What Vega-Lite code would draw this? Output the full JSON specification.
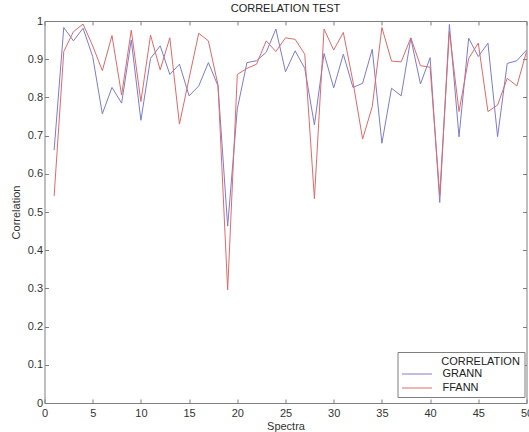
{
  "$schema": "https://vega.github.io/schema/vega-lite/v6.json",
  "width": 482,
  "height": 382,
  "autosize": {"type": "none"},
  "padding": {"left": 44.5, "top": 21, "right": 2.5, "bottom": 29},
  "background": "white",
  "title": {"text": "CORRELATION TEST", "fontSize": 11, "font": "Liberation Sans", "fontWeight": "normal", "color": "#222222", "offset": 1},
  "config": {
    "view": {"stroke": null},
    "axis": {
      "grid": false, "domainColor": "#7f7f7f", "tickColor": "#7f7f7f", "tickSize": -4,
      "labelFont": "Liberation Sans", "labelFontSize": 11, "labelColor": "#333333",
      "titleFont": "Liberation Sans", "titleFontSize": 11, "titleFontWeight": "normal", "titleColor": "#333333",
      "labelFlush": false, "labelOverlap": false, "labelBound": false
    }
  },
  "data": {"values": [
    {"spectrum": 1, "model": "GRANN", "correlation": 0.662},
    {"spectrum": 2, "model": "GRANN", "correlation": 0.983},
    {"spectrum": 3, "model": "GRANN", "correlation": 0.948},
    {"spectrum": 4, "model": "GRANN", "correlation": 0.981},
    {"spectrum": 5, "model": "GRANN", "correlation": 0.907},
    {"spectrum": 6, "model": "GRANN", "correlation": 0.757},
    {"spectrum": 7, "model": "GRANN", "correlation": 0.826},
    {"spectrum": 8, "model": "GRANN", "correlation": 0.785},
    {"spectrum": 9, "model": "GRANN", "correlation": 0.950},
    {"spectrum": 10, "model": "GRANN", "correlation": 0.740},
    {"spectrum": 11, "model": "GRANN", "correlation": 0.902},
    {"spectrum": 12, "model": "GRANN", "correlation": 0.935},
    {"spectrum": 13, "model": "GRANN", "correlation": 0.860},
    {"spectrum": 14, "model": "GRANN", "correlation": 0.887},
    {"spectrum": 15, "model": "GRANN", "correlation": 0.804},
    {"spectrum": 16, "model": "GRANN", "correlation": 0.830},
    {"spectrum": 17, "model": "GRANN", "correlation": 0.891},
    {"spectrum": 18, "model": "GRANN", "correlation": 0.830},
    {"spectrum": 19, "model": "GRANN", "correlation": 0.463},
    {"spectrum": 20, "model": "GRANN", "correlation": 0.770},
    {"spectrum": 21, "model": "GRANN", "correlation": 0.891},
    {"spectrum": 22, "model": "GRANN", "correlation": 0.896},
    {"spectrum": 23, "model": "GRANN", "correlation": 0.918},
    {"spectrum": 24, "model": "GRANN", "correlation": 0.979},
    {"spectrum": 25, "model": "GRANN", "correlation": 0.867},
    {"spectrum": 26, "model": "GRANN", "correlation": 0.922},
    {"spectrum": 27, "model": "GRANN", "correlation": 0.876},
    {"spectrum": 28, "model": "GRANN", "correlation": 0.728},
    {"spectrum": 29, "model": "GRANN", "correlation": 0.915},
    {"spectrum": 30, "model": "GRANN", "correlation": 0.825},
    {"spectrum": 31, "model": "GRANN", "correlation": 0.913},
    {"spectrum": 32, "model": "GRANN", "correlation": 0.826},
    {"spectrum": 33, "model": "GRANN", "correlation": 0.837},
    {"spectrum": 34, "model": "GRANN", "correlation": 0.926},
    {"spectrum": 35, "model": "GRANN", "correlation": 0.680},
    {"spectrum": 36, "model": "GRANN", "correlation": 0.824},
    {"spectrum": 37, "model": "GRANN", "correlation": 0.804},
    {"spectrum": 38, "model": "GRANN", "correlation": 0.955},
    {"spectrum": 39, "model": "GRANN", "correlation": 0.835},
    {"spectrum": 40, "model": "GRANN", "correlation": 0.904},
    {"spectrum": 41, "model": "GRANN", "correlation": 0.525},
    {"spectrum": 42, "model": "GRANN", "correlation": 0.991},
    {"spectrum": 43, "model": "GRANN", "correlation": 0.697},
    {"spectrum": 44, "model": "GRANN", "correlation": 0.955},
    {"spectrum": 45, "model": "GRANN", "correlation": 0.907},
    {"spectrum": 46, "model": "GRANN", "correlation": 0.942},
    {"spectrum": 47, "model": "GRANN", "correlation": 0.697},
    {"spectrum": 48, "model": "GRANN", "correlation": 0.889},
    {"spectrum": 49, "model": "GRANN", "correlation": 0.896},
    {"spectrum": 50, "model": "GRANN", "correlation": 0.924},
    {"spectrum": 1, "model": "FFANN", "correlation": 0.542},
    {"spectrum": 2, "model": "FFANN", "correlation": 0.920},
    {"spectrum": 3, "model": "FFANN", "correlation": 0.972},
    {"spectrum": 4, "model": "FFANN", "correlation": 0.992},
    {"spectrum": 5, "model": "FFANN", "correlation": 0.935},
    {"spectrum": 6, "model": "FFANN", "correlation": 0.870},
    {"spectrum": 7, "model": "FFANN", "correlation": 0.962},
    {"spectrum": 8, "model": "FFANN", "correlation": 0.806},
    {"spectrum": 9, "model": "FFANN", "correlation": 0.976},
    {"spectrum": 10, "model": "FFANN", "correlation": 0.789},
    {"spectrum": 11, "model": "FFANN", "correlation": 0.963},
    {"spectrum": 12, "model": "FFANN", "correlation": 0.872},
    {"spectrum": 13, "model": "FFANN", "correlation": 0.956},
    {"spectrum": 14, "model": "FFANN", "correlation": 0.730},
    {"spectrum": 15, "model": "FFANN", "correlation": 0.850},
    {"spectrum": 16, "model": "FFANN", "correlation": 0.968},
    {"spectrum": 17, "model": "FFANN", "correlation": 0.948},
    {"spectrum": 18, "model": "FFANN", "correlation": 0.832},
    {"spectrum": 19, "model": "FFANN", "correlation": 0.296},
    {"spectrum": 20, "model": "FFANN", "correlation": 0.860},
    {"spectrum": 21, "model": "FFANN", "correlation": 0.876},
    {"spectrum": 22, "model": "FFANN", "correlation": 0.887},
    {"spectrum": 23, "model": "FFANN", "correlation": 0.948},
    {"spectrum": 24, "model": "FFANN", "correlation": 0.920},
    {"spectrum": 25, "model": "FFANN", "correlation": 0.956},
    {"spectrum": 26, "model": "FFANN", "correlation": 0.952},
    {"spectrum": 27, "model": "FFANN", "correlation": 0.913},
    {"spectrum": 28, "model": "FFANN", "correlation": 0.535},
    {"spectrum": 29, "model": "FFANN", "correlation": 0.979},
    {"spectrum": 30, "model": "FFANN", "correlation": 0.924},
    {"spectrum": 31, "model": "FFANN", "correlation": 0.970},
    {"spectrum": 32, "model": "FFANN", "correlation": 0.841},
    {"spectrum": 33, "model": "FFANN", "correlation": 0.691},
    {"spectrum": 34, "model": "FFANN", "correlation": 0.776},
    {"spectrum": 35, "model": "FFANN", "correlation": 0.983},
    {"spectrum": 36, "model": "FFANN", "correlation": 0.895},
    {"spectrum": 37, "model": "FFANN", "correlation": 0.893},
    {"spectrum": 38, "model": "FFANN", "correlation": 0.956},
    {"spectrum": 39, "model": "FFANN", "correlation": 0.883},
    {"spectrum": 40, "model": "FFANN", "correlation": 0.879},
    {"spectrum": 41, "model": "FFANN", "correlation": 0.545},
    {"spectrum": 42, "model": "FFANN", "correlation": 0.972},
    {"spectrum": 43, "model": "FFANN", "correlation": 0.763},
    {"spectrum": 44, "model": "FFANN", "correlation": 0.902},
    {"spectrum": 45, "model": "FFANN", "correlation": 0.942},
    {"spectrum": 46, "model": "FFANN", "correlation": 0.763},
    {"spectrum": 47, "model": "FFANN", "correlation": 0.780},
    {"spectrum": 48, "model": "FFANN", "correlation": 0.850},
    {"spectrum": 49, "model": "FFANN", "correlation": 0.830},
    {"spectrum": 50, "model": "FFANN", "correlation": 0.920}
  ]},
  "layer": [
    {
      "mark": {"type": "line", "strokeWidth": 1},
      "encoding": {
        "x": {"field": "spectrum", "type": "quantitative",
          "scale": {"domain": [0, 50], "nice": false},
          "axis": {"title": "Spectra", "values": [0, 5, 10, 15, 20, 25, 30, 35, 40, 45, 50], "labelPadding": 8, "titlePadding": 2}},
        "y": {"field": "correlation", "type": "quantitative",
          "scale": {"domain": [0, 1], "nice": false, "zero": false},
          "axis": {"title": "Correlation", "values": [0, 0.1, 0.2, 0.3, 0.4, 0.5, 0.6, 0.7, 0.8, 0.9, 1], "format": ".1~f", "labelPadding": 6, "titlePadding": 6}},
        "color": {"field": "model", "type": "nominal",
          "scale": {"domain": ["GRANN", "FFANN"], "range": ["#7c7cd2", "#e06a6a"]},
          "legend": {
            "title": "\u200b\u00a0\u00a0\u00a0\u00a0\u00a0\u00a0\u00a0\u00a0\u00a0\u00a0\u00a0\u00a0\u00a0CORRELATION",
            "orient": "none", "legendX": 353, "legendY": 331,
            "strokeColor": "#7f7f7f", "fillColor": "white", "padding": 4, "cornerRadius": 0,
            "titleFont": "Liberation Sans", "titleFontSize": 11, "titleFontWeight": "normal", "titleColor": "#222222", "titlePadding": 0,
            "labelFont": "Liberation Sans", "labelFontSize": 11, "labelColor": "#222222",
            "symbolType": "M-1,0H3.615", "symbolSize": 169, "symbolStrokeWidth": 1, "labelOffset": 27, "rowPadding": 2
          }}
      }
    },
    {
      "mark": {"type": "line", "opacity": 0},
      "encoding": {
        "x": {"field": "spectrum", "type": "quantitative",
          "axis": {"orient": "top", "title": null, "labels": false, "values": [0, 5, 10, 15, 20, 25, 30, 35, 40, 45, 50]}},
        "y": {"field": "correlation", "type": "quantitative",
          "axis": {"orient": "right", "title": null, "labels": false, "values": [0, 0.1, 0.2, 0.3, 0.4, 0.5, 0.6, 0.7, 0.8, 0.9, 1]}},
        "detail": {"field": "model"}
      }
    }
  ],
  "resolve": {"axis": {"x": "independent", "y": "independent"}}
}
